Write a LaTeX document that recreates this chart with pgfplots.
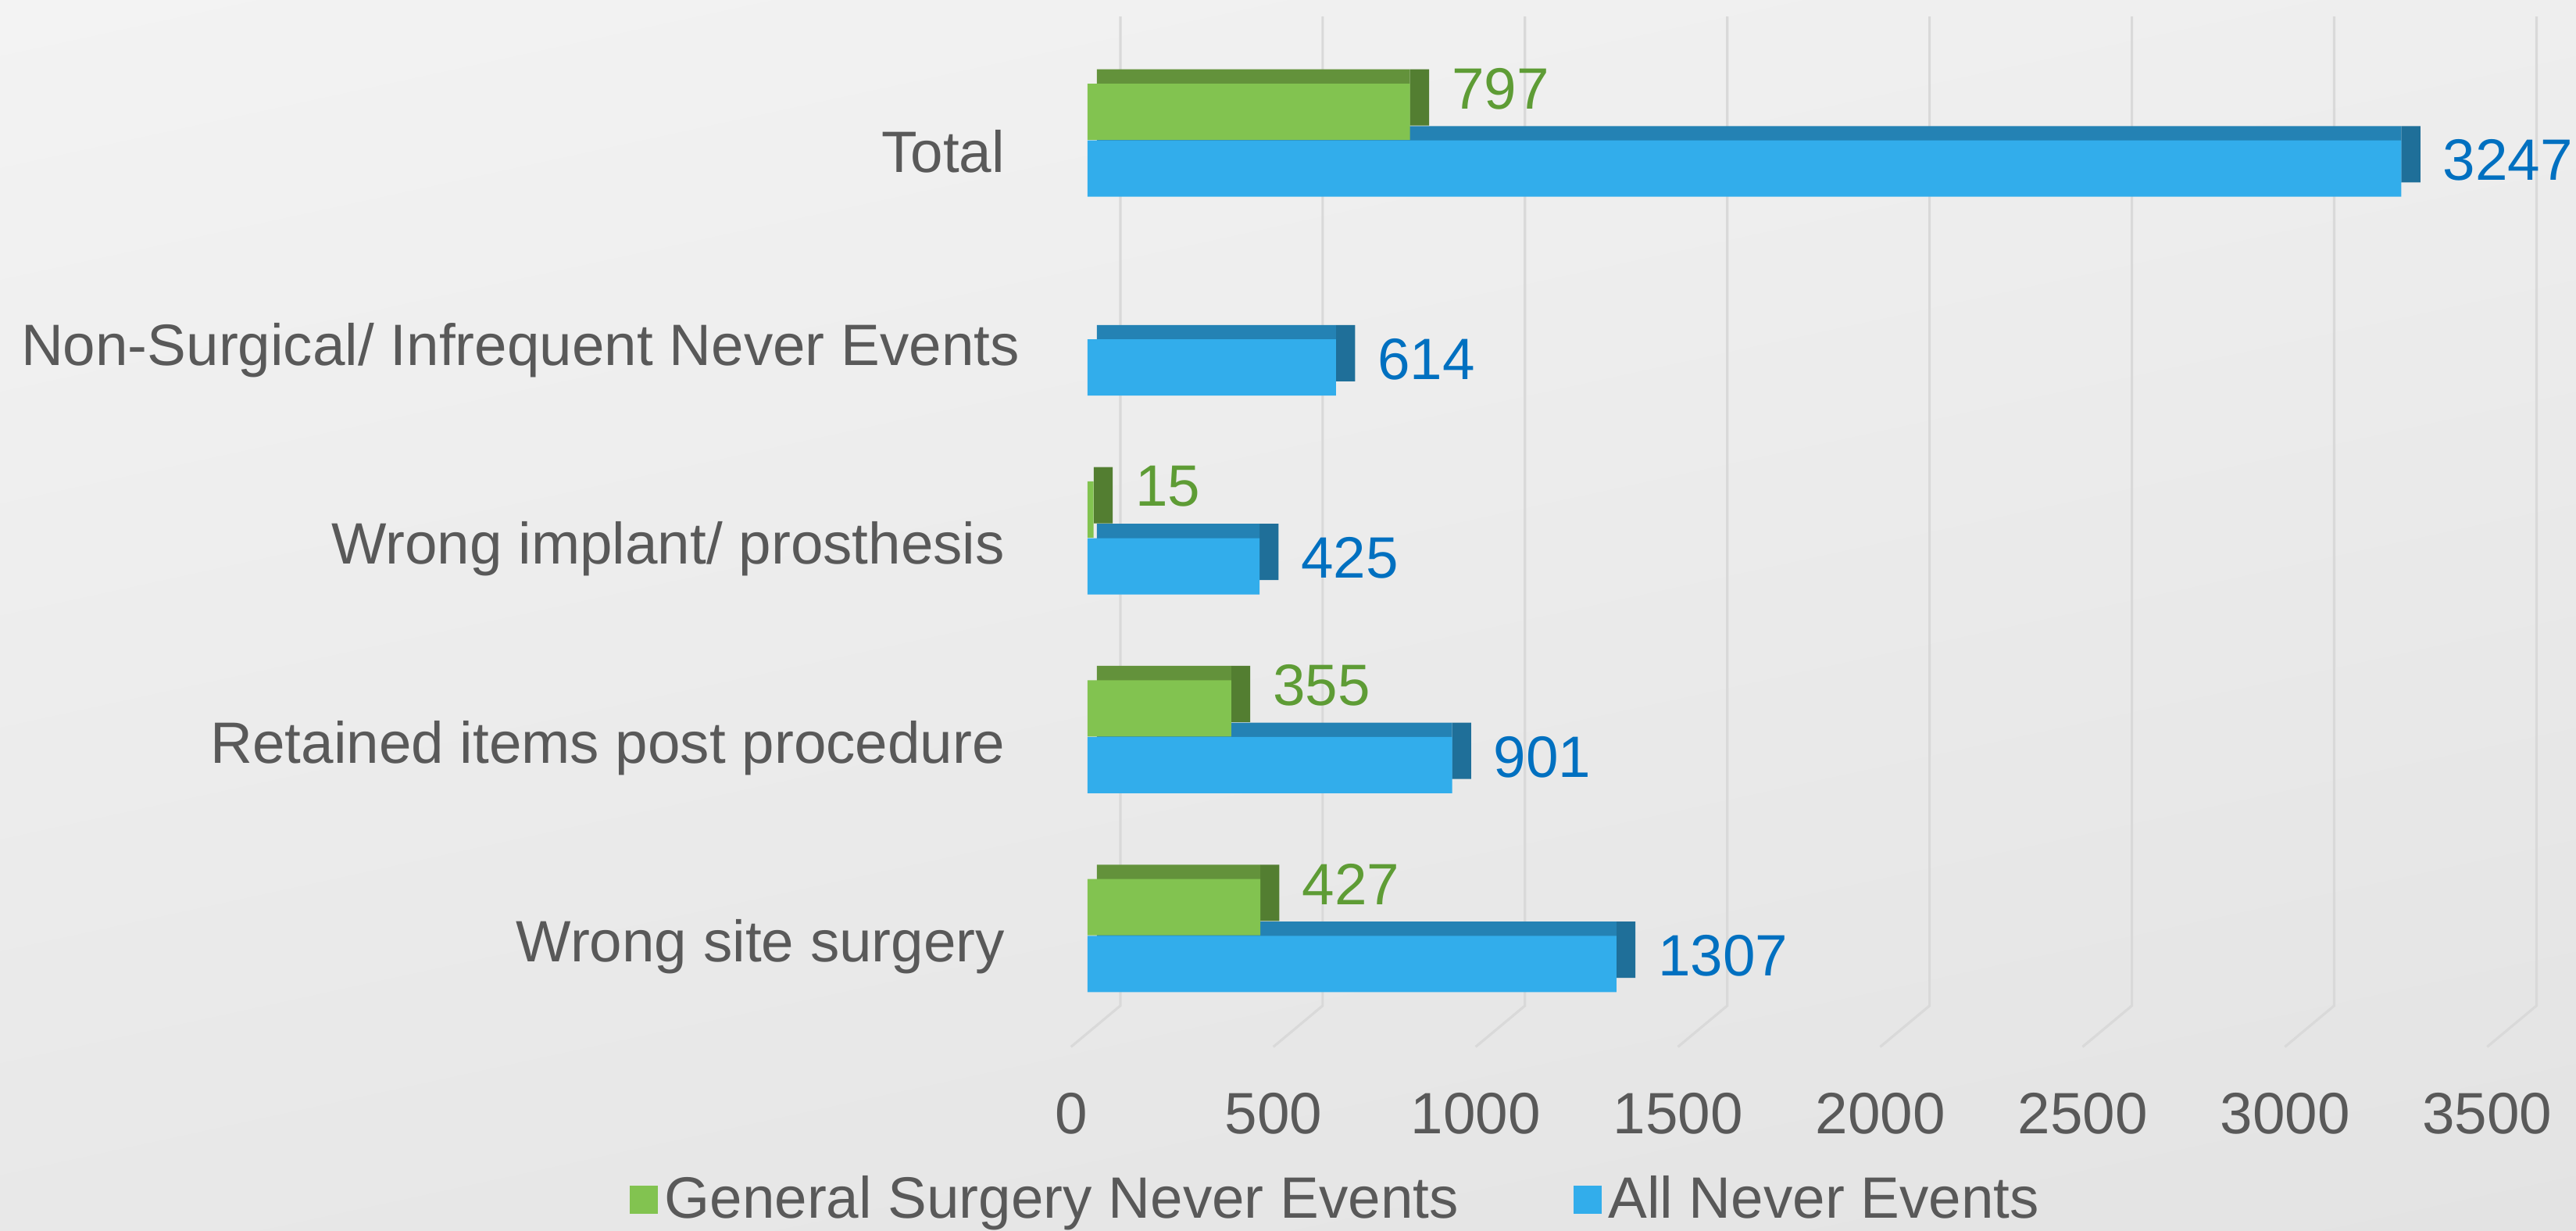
\documentclass[border=0pt]{standalone}
\usepackage{pgfplots}
\pgfplotsset{compat=1.18}
\usepackage{pgfplotstable}
\usetikzlibrary{shadings}
\usepackage{fontspec}
\setmainfont{Liberation Sans}

\definecolor{gfront}{HTML}{82C350}
\definecolor{gtop}{HTML}{63923B}
\definecolor{gside}{HTML}{537E31}
\definecolor{bfront}{HTML}{32ADEB}
\definecolor{btop}{HTML}{2482B4}
\definecolor{bside}{HTML}{1F6F99}
\definecolor{glabel}{HTML}{5E9C35}
\definecolor{blabel}{HTML}{0070C0}
\definecolor{txt}{HTML}{595959}
\definecolor{gridc}{HTML}{D9D9D9}
\definecolor{bgul}{HTML}{F3F3F3}
\definecolor{bgur}{HTML}{EEEEEE}
\definecolor{bgll}{HTML}{E8E8E8}
\definecolor{bglr}{HTML}{E3E3E3}

\newcommand{\chartfont}{\fontsize{17.75}{21}\selectfont}

% back (depth) faces of the 3D bars: offset, top faces, side faces
\pgfplotstableread{
y      o   tg   tb    sg  sb
0.2125 23  404  0     47  0
1.2125 23  332  0     47  0
2.2125 15  0    0     47  0
3.2125 0   0    0     0   0
4.2125 23  774  0     47  0
-0.073 23  0    1284  0   47
0.927  23  0    878   0   47
1.927  23  0    402   0   47
2.927  23  0    591   0   47
3.927  23  0    3224  0   47
}\backtable

% General Surgery Never Events
\pgfplotstableread{
y      v
0.1405 427
1.1405 355
2.1405 15
4.1405 797
}\gentable

% All Never Events
\pgfplotstableread{
y      v
-0.145 1307
0.855  901
1.855  425
2.855  614
3.855  3247
}\alltable

\pgfplotsset{common/.style={at={(331pt,53.7pt)}, anchor=south west, scale only axis,
  width=431pt, height=317.6pt, xmin=0, xmax=3500, ymin=-0.6, ymax=4.65}}

\begin{document}
\begin{tikzpicture}
\useasboundingbox (0,0) rectangle (784pt,374.5pt);
\shade[upper left=bgul, upper right=bgur, lower left=bgll, lower right=bglr] (0,0) rectangle (784pt,374.5pt);

% grid (back wall + floor)
\begin{axis}[common, hide axis, clip=false]
\draw[gridc, line width=0.75pt] (axis cs:81,4.62) -- (axis cs:81,-0.355) -- (axis cs:-41,-0.562);
\draw[gridc, line width=0.75pt] (axis cs:581,4.62) -- (axis cs:581,-0.355) -- (axis cs:459,-0.562);
\draw[gridc, line width=0.75pt] (axis cs:1081,4.62) -- (axis cs:1081,-0.355) -- (axis cs:959,-0.562);
\draw[gridc, line width=0.75pt] (axis cs:1581,4.62) -- (axis cs:1581,-0.355) -- (axis cs:1459,-0.562);
\draw[gridc, line width=0.75pt] (axis cs:2081,4.62) -- (axis cs:2081,-0.355) -- (axis cs:1959,-0.562);
\draw[gridc, line width=0.75pt] (axis cs:2581,4.62) -- (axis cs:2581,-0.355) -- (axis cs:2459,-0.562);
\draw[gridc, line width=0.75pt] (axis cs:3081,4.62) -- (axis cs:3081,-0.355) -- (axis cs:2959,-0.562);
\draw[gridc, line width=0.75pt] (axis cs:3581,4.62) -- (axis cs:3581,-0.355) -- (axis cs:3459,-0.562);
\end{axis}

% depth faces
\begin{axis}[common, hide axis, clip=false, xbar stacked, bar width=0.283]
\addplot[draw=none, fill=none] table[x=o, y=y]{\backtable};
\addplot[draw=none, fill=gtop] table[x=tg, y=y]{\backtable};
\addplot[draw=none, fill=btop] table[x=tb, y=y]{\backtable};
\addplot[draw=none, fill=gside] table[x=sg, y=y]{\backtable};
\addplot[draw=none, fill=bside] table[x=sb, y=y]{\backtable};
\end{axis}

% front faces, labels, legend
\begin{axis}[common, clip=false, xbar, bar width=0.283,
  axis line style={draw=none}, major tick length=0pt,
  xtick={0,500,...,3500}, ytick={0,1,2,3,4},
  yticklabels={Wrong site surgery, Retained items post procedure, Wrong implant/ prosthesis, Non-Surgical/ Infrequent Never Events\hspace*{-4.5pt}, Total},
  tick label style={font=\chartfont, text=txt},
  xticklabel style={anchor=center, yshift=-18pt, xshift=-5pt},
  yticklabel style={anchor=east, inner sep=0pt, xshift=-25pt, yshift=-3.5pt},
  /pgf/number format/1000 sep={},
  /pgf/number format/assume math mode=true,
  legend columns=2,
  legend style={at={(rel axis cs:-0.3236,-0.139)}, anchor=west, draw=none, fill=none,
    inner sep=0pt, font=\chartfont, text=txt,
    /tikz/every even column/.append style={column sep=33pt}},
  legend image code/.code={\fill[#1] (-3.5pt,-4.25pt) rectangle (5pt,4.25pt);},
]
\addplot[draw=none, fill=gfront, bar shift=0pt, nodes near coords,
  every node near coord/.append style={anchor=west, inner sep=0pt, xshift=12.5pt, yshift=7pt,
    font=\chartfont, text=glabel}]
  table[x=v, y=y]{\gentable};
\addlegendentry{General Surgery Never Events}
\addplot[draw=none, fill=bfront, bar shift=0pt, nodes near coords,
  every node near coord/.append style={anchor=west, inner sep=0pt, xshift=12.5pt, yshift=2.5pt,
    font=\chartfont, text=blabel}]
  table[x=v, y=y]{\alltable};
\addlegendentry{All Never Events}
\end{axis}
\end{tikzpicture}
\end{document}
